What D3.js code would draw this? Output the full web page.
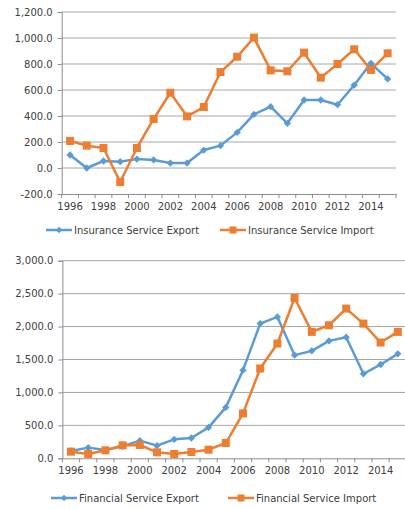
<!DOCTYPE html>
<html>
<head>
<meta charset="utf-8">
<script src="https://cdn.jsdelivr.net/npm/d3@7"></script>
<style>
  html, body { margin: 0; padding: 0; background: #fff; }
  svg { display: block; }
  text { font-family: "DejaVu Sans", Verdana, sans-serif; fill: #404040; }
</style>
</head>
<body>
<svg id="chart" width="405" height="509"></svg>
<script>
// Years on the category axis (shared by both panels)
const years = d3.range(1996, 2016).map(String);

// Insurance services (top panel)
const insuranceExport = [100, 0, 54, 49, 69, 62, 38, 38, 138, 172, 274, 413, 472, 344, 523, 523, 487, 638, 805, 685];
const insuranceImport = [208, 172, 154, -108, 154, 377, 579, 397, 469, 738, 856, 1003, 751, 744, 887, 695, 800, 913, 754, 882];
const insuranceTicks = [-200, 0, 200, 400, 600, 800, 1000, 1200];

// Financial services (bottom panel)
const financialExport = [111, 162, 126, 182, 268, 192, 288, 308, 470, 773, 1338, 2045, 2146, 1566, 1631, 1783, 1838, 1283, 1424, 1586];
const financialImport = [101, 66, 121, 197, 202, 91, 66, 96, 131, 232, 682, 1364, 1742, 2434, 1919, 2020, 2273, 2045, 1758, 1919];
const financialTicks = [0, 500, 1000, 1500, 2000, 2500, 3000];

const blue = "#5b9bd5";
const orange = "#ed7d31";

const fmt = d3.formatLocale({ decimal: ".", thousands: ",", grouping: [3], currency: ["", ""], minus: "-" }).format(",.1f");

const svg = d3.select("#chart");

function drawPanel(cfg) {
  const g = svg.append("g");
  const x = d3.scaleBand().domain(years).range([cfg.left, cfg.right]);
  const y = d3.scaleLinear().domain([cfg.ticks[0], cfg.ticks[cfg.ticks.length - 1]]).range([cfg.bottom, cfg.top]);

  // horizontal gridlines
  g.append("g").selectAll("line").data(cfg.ticks.slice(1)).join("line")
    .attr("x1", cfg.left).attr("x2", cfg.right)
    .attr("y1", d => y(d)).attr("y2", d => y(d))
    .attr("stroke", "#a6a6a6").attr("stroke-width", 1);

  // value axis
  const yAxis = g.append("g").attr("transform", `translate(${cfg.left},0)`)
    .call(d3.axisLeft(y).tickValues(cfg.ticks).tickFormat(fmt).tickSize(4).tickPadding(5));
  yAxis.select(".domain").attr("stroke", "#8c8c8c");
  yAxis.selectAll(".tick line").attr("stroke", "#8c8c8c");
  yAxis.selectAll("text").attr("font-size", 10).attr("fill", "#404040").attr("font-family", "DejaVu Sans, sans-serif");

  // category axis: labels every second year, ticks at band edges
  const xAxis = g.append("g").attr("transform", `translate(0,${cfg.bottom})`)
    .call(d3.axisBottom(x).tickSize(0).tickPadding(9)
      .tickFormat((d, i) => i % 2 === 0 ? d : ""));
  xAxis.select(".domain").attr("stroke", "#8c8c8c");
  xAxis.selectAll("text").attr("font-size", 10).attr("fill", "#404040").attr("font-family", "DejaVu Sans, sans-serif");
  const edges = years.map(d => x(d)).concat([x(years[years.length - 1]) + x.bandwidth()]);
  g.append("g").selectAll("line").data(edges).join("line")
    .attr("x1", d => d).attr("x2", d => d)
    .attr("y1", cfg.bottom).attr("y2", cfg.bottom + 4)
    .attr("stroke", "#8c8c8c");

  const cx = d => x(d) + x.bandwidth() / 2;
  const line = d3.line().x((v, i) => cx(years[i])).y(v => y(v));

  cfg.series.forEach(s => {
    g.append("path").datum(s.values)
      .attr("fill", "none").attr("stroke", s.color).attr("stroke-width", 2.5)
      .attr("stroke-linejoin", "round").attr("d", line);
    const m = g.append("g").selectAll("path").data(s.values).join("path")
      .attr("transform", (v, i) => `translate(${cx(years[i])},${y(v)})`)
      .attr("fill", s.color);
    if (s.shape === "diamond") m.attr("d", d3.symbol(d3.symbolDiamond2, 34));
    else m.attr("d", "M-4,-4H4V4H-4Z");
  });

  // legend
  cfg.series.forEach(s => {
    const lg = g.append("g").attr("transform", `translate(${s.legendX},${cfg.legendY})`);
    lg.append("line").attr("x1", 0).attr("x2", 26).attr("stroke", s.color).attr("stroke-width", 2.5);
    const mk = lg.append("path").attr("transform", "translate(13,0)").attr("fill", s.color);
    if (s.shape === "diamond") mk.attr("d", d3.symbol(d3.symbolDiamond2, 26));
    else mk.attr("d", "M-3.5,-3.5H3.5V3.5H-3.5Z");
    lg.append("text").attr("x", 28).attr("dy", "0.35em").attr("font-size", 10).text(s.name);
  });
}

drawPanel({
  left: 61.7, right: 396, top: 12, bottom: 194,
  ticks: insuranceTicks, legendY: 230,
  series: [
    { name: "Insurance Service Export", values: insuranceExport, color: blue, shape: "diamond", legendX: 46 },
    { name: "Insurance Service Import", values: insuranceImport, color: orange, shape: "square", legendX: 220 }
  ]
});

drawPanel({
  left: 62.4, right: 406.4, top: 260.7, bottom: 458.3,
  ticks: financialTicks, legendY: 498,
  series: [
    { name: "Financial Service Export", values: financialExport, color: blue, shape: "diamond", legendX: 51 },
    { name: "Financial Service Import", values: financialImport, color: orange, shape: "square", legendX: 228 }
  ]
});
</script>
</body>
</html>
